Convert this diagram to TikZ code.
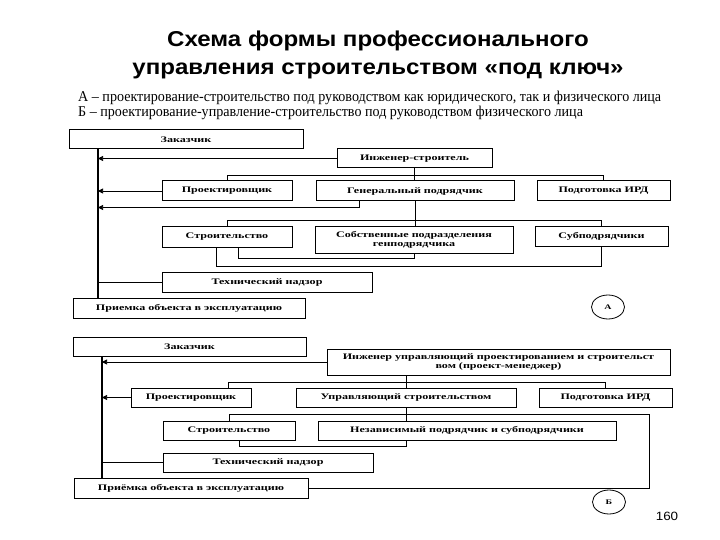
\documentclass[tikz,border=0pt]{standalone}
\usepackage{fontspec}
\setmainfont{Liberation Serif}
\newfontfamily\titlefont[FakeStretch=1.12]{Liberation Sans}
\newfontfamily\boxfont[FakeStretch=1.42]{Liberation Serif}
\newfontfamily\notefont[FakeStretch=0.94]{Liberation Serif}
\usepackage{tikz}
\usetikzlibrary{shapes.geometric, arrows.meta, positioning, calc}

\begin{document}
\begin{tikzpicture}[
    x=1pt, y=-1pt,
    boxnode/.style={rectangle, draw=black, line width=1pt, inner sep=1pt, minimum height=19pt, align=center, font=\boxfont\bfseries\fontsize{8.5}{9.5}\selectfont},
    tagnode/.style={ellipse, draw=black, line width=0.8pt, minimum width=33pt, minimum height=24pt, inner sep=0pt, font=\boxfont\bfseries\fontsize{7}{8}\selectfont},
    notenode/.style={anchor=base west, inner sep=0pt, font=\notefont\fontsize{15}{16}\selectfont},
    arrow/.style={line width=0.7pt, -{Triangle[length=5pt, width=5pt]}, draw=black},
    link/.style={line width=0.7pt, draw=black},
    spine/.style={line width=1.5pt, draw=black}
]
    \useasboundingbox (0,0) rectangle (720,540);

    % Title
    \node (title1) [anchor=base, inner sep=0pt, font=\titlefont\bfseries\fontsize{21.5}{28}\selectfont] at (378,47) {Схема формы профессионального};
    \node (title2) [anchor=base, inner sep=0pt, font=\titlefont\bfseries\fontsize{21.5}{28}\selectfont] at (378,75) {управления строительством «под ключ»};
    \node (noteA) [notenode] at (78,102) {А – проектирование-строительство под руководством как юридического, так и физического лица};
    \node (noteB) [notenode] at (78,117) {Б – проектирование-управление-строительство под руководством физического лица};

    % Nodes A
    \node (zakA) [boxnode, minimum width=234pt] at (186,139.5) {Заказчик};
    \node (ingA) [boxnode, minimum width=155pt] at (414.5,158.5) {Инженер-строитель};
    \node (proA) [boxnode, minimum width=130pt, minimum height=20pt] at (227,191) {Проектировщик};
    \node (genA) [boxnode, minimum width=198pt, minimum height=20pt, right=23pt of proA] {Генеральный подрядчик};
    \node (irdA) [boxnode, minimum width=133pt, minimum height=20pt, right=22pt of genA] {Подготовка ИРД};
    \node (stroA) [boxnode, minimum width=130pt, minimum height=20pt] at (227,237) {Строительство};
    \node (sobA) [boxnode, minimum width=198pt, minimum height=26pt] at (414,240) {Собственные подразделения\\генподрядчика};
    \node (subA) [boxnode, minimum width=133pt] at (601.5,236.5) {Субподрядчики};
    \node (nadA) [boxnode, minimum width=210pt, minimum height=20pt] at (267,282) {Технический надзор};
    \node (priA) [boxnode, minimum width=232pt, minimum height=20pt] at (189,308) {Приемка объекта в эксплуатацию};
    \node (tagA) [tagnode] at (608,307) {А};

    % Flows A
    \coordinate (spineA) at (98,149);
    \draw [spine] (spineA) -- (spineA |- priA.north);
    \draw [arrow] (ingA.west) -- (ingA.west -| spineA);
    \draw [arrow] (proA.west) -- (proA.west -| spineA);
    \draw [arrow] ($(genA.south west)+(44,0)$) -- ++(0,6) coordinate (genAturn) -- (genAturn -| spineA);
    \draw [link] (nadA.west) -- (nadA.west -| spineA);
    \draw [link] (ingA.south) -- ++(0,7) -| (proA.north);
    \draw [link] (ingA.south) -- ++(0,7) -| (irdA.north);
    \draw [link] (ingA.south) -- (ingA.south |- genA.north);
    \draw [link] (genA.south) -- ++(0,19) -| (stroA.north);
    \draw [link] (genA.south) -- ++(0,19) -| (subA.north);
    \draw [link] (genA.south) -- (genA.south |- sobA.north);
    \draw [link] (sobA.south) -- ++(0,5) -| ($(stroA.south)+(11,0)$);
    \draw [link] (subA.south) -- ++(0,20) -| ($(stroA.south)+(-11,0)$);

    % Nodes B
    \node (zakB) [boxnode, minimum width=233pt] at (189.5,346.5) {Заказчик};
    \node (ingB) [boxnode, minimum width=343pt, minimum height=26pt] at (498.5,362) {Инженер управляющий проектированием и строительст\\вом (проект-менеджер)};
    \node (proB) [boxnode, minimum width=120pt] at (191,397.5) {Проектировщик};
    \node (uprB) [boxnode, minimum width=220pt, right=44pt of proB] {Управляющий строительством};
    \node (irdB) [boxnode, minimum width=133pt, right=22pt of uprB] {Подготовка ИРД};
    \node (stroB) [boxnode, minimum width=132pt] at (229,430.5) {Строительство};
    \node (nezB) [boxnode, minimum width=298pt, right=22pt of stroB] {Независимый подрядчик и субподрядчики};
    \node (nadB) [boxnode, minimum width=210pt] at (268,462.5) {Технический надзор};
    \node (priB) [boxnode, minimum width=234pt, minimum height=20pt] at (191,488) {Приёмка объекта в эксплуатацию};
    \node (tagB) [tagnode] at (609,502) {Б};

    % Flows B
    \coordinate (spineB) at (102,356);
    \draw [spine] (spineB) -- (spineB |- priB.north);
    \draw [arrow] (ingB.west) -- (ingB.west -| spineB);
    \draw [arrow] (proB.west) -- (proB.west -| spineB);
    \draw [link] (nadB.west) -- (nadB.west -| spineB);
    \draw [link] (uprB.north |- ingB.south) -- (uprB.north);
    \draw [link] (uprB.north |- ingB.south) -- ++(0,7) -| ($(proB.north)+(37,0)$);
    \draw [link] (uprB.north |- ingB.south) -- ++(0,7) -| (irdB.north);
    \draw [link] (uprB.south) -- ++(0,7) -| (stroB.north);
    \draw [link] (uprB.south) -- ++(0,7) -- ++(243,0) |- (priB.east);
    \draw [link] (uprB.south) -- (uprB.south |- nezB.north);
    \draw [link] (uprB.south |- nezB.south) -- ++(0,6) -| ($(stroB.south)+(10,0)$);

    \node (page) [font=\titlefont\fontsize{12}{12}\selectfont] at (667,516) {160};
\end{tikzpicture}
\end{document}
